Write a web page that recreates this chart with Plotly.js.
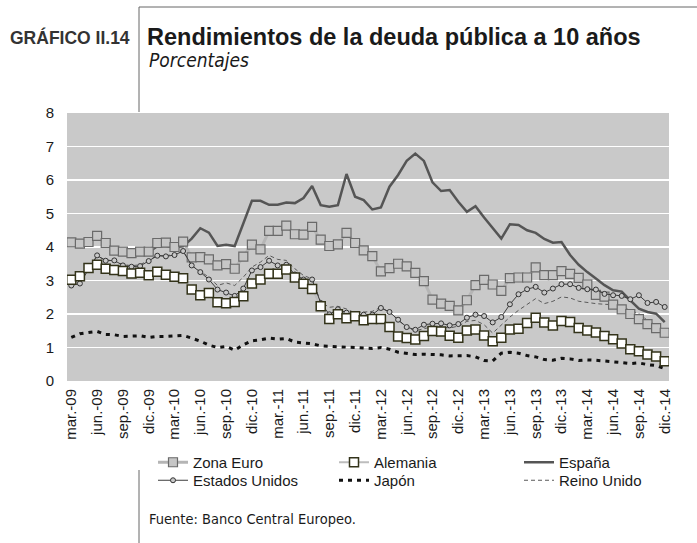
<!DOCTYPE html>
<html><head><meta charset="utf-8">
<script src="https://cdn.plot.ly/plotly-3.0.1.min.js"></script>
<style>html,body{margin:0;padding:0;background:#fff;}#chart{width:697px;height:543px;}</style>
</head><body><div id="chart"></div>
<script>
const months = ["mar.-09","abr.-09","may.-09","jun.-09","jul.-09","ago.-09","sep.-09","oct.-09","nov.-09","dic.-09",
"ene.-10","feb.-10","mar.-10","abr.-10","may.-10","jun.-10","jul.-10","ago.-10","sep.-10","oct.-10","nov.-10","dic.-10",
"ene.-11","feb.-11","mar.-11","abr.-11","may.-11","jun.-11","jul.-11","ago.-11","sep.-11","oct.-11","nov.-11","dic.-11",
"ene.-12","feb.-12","mar.-12","abr.-12","may.-12","jun.-12","jul.-12","ago.-12","sep.-12","oct.-12","nov.-12","dic.-12",
"ene.-13","feb.-13","mar.-13","abr.-13","may.-13","jun.-13","jul.-13","ago.-13","sep.-13","oct.-13","nov.-13","dic.-13",
"ene.-14","feb.-14","mar.-14","abr.-14","may.-14","jun.-14","jul.-14","ago.-14","sep.-14","oct.-14","nov.-14","dic.-14"];

const zonaEuro = [4.14,4.10,4.15,4.33,4.12,3.89,3.86,3.82,3.86,3.86,
4.12,4.13,4.00,4.16,3.69,3.70,3.63,3.45,3.49,3.35,3.71,4.07,
3.93,4.48,4.48,4.64,4.38,4.37,4.60,4.22,4.03,4.08,4.42,4.12,
3.90,3.73,3.27,3.37,3.50,3.42,3.23,2.98,2.43,2.31,2.24,2.11,
2.41,2.86,3.02,2.88,2.69,3.07,3.09,3.09,3.39,3.16,3.16,3.28,
3.20,3.08,2.88,2.57,2.52,2.28,2.14,2.00,1.85,1.70,1.58,1.44];

const alemania = [3.02,3.13,3.37,3.47,3.35,3.31,3.28,3.21,3.23,3.16,
3.26,3.17,3.11,3.07,2.73,2.56,2.63,2.35,2.32,2.36,2.53,2.91,
3.03,3.20,3.20,3.33,3.09,2.90,2.75,2.23,1.85,1.99,1.87,1.93,
1.81,1.85,1.85,1.61,1.33,1.28,1.24,1.34,1.49,1.48,1.35,1.29,
1.51,1.54,1.36,1.19,1.29,1.54,1.56,1.73,1.89,1.75,1.66,1.79,
1.76,1.58,1.51,1.45,1.34,1.25,1.12,0.95,0.89,0.79,0.73,0.59];

const espana = [4.13,4.07,4.15,4.31,4.11,3.89,3.85,3.81,3.84,3.85,
4.02,4.02,3.99,4.02,4.25,4.56,4.43,4.03,4.07,4.03,4.70,5.38,
5.38,5.26,5.26,5.33,5.31,5.46,5.82,5.25,5.20,5.25,6.18,5.50,
5.40,5.12,5.18,5.80,6.15,6.57,6.79,6.57,5.93,5.67,5.70,5.35,
5.05,5.22,4.88,4.57,4.25,4.68,4.66,4.50,4.42,4.24,4.13,4.15,
3.76,3.47,3.25,3.06,2.86,2.71,2.67,2.41,2.16,2.06,2.01,1.76];

const estadosUnidos = [2.85,2.91,3.33,3.75,3.59,3.60,3.45,3.41,3.43,3.58,
3.74,3.72,3.76,3.88,3.45,3.25,3.03,2.73,2.64,2.54,2.76,3.30,
3.40,3.59,3.45,3.47,3.18,3.03,3.03,2.33,1.99,2.14,2.04,1.98,
1.98,1.98,2.18,2.06,1.83,1.61,1.53,1.68,1.71,1.72,1.66,1.70,
1.89,1.98,1.94,1.75,1.91,2.29,2.59,2.74,2.81,2.64,2.76,2.89,
2.89,2.78,2.74,2.73,2.60,2.56,2.54,2.44,2.56,2.33,2.36,2.21];

const japon = [1.30,1.41,1.45,1.48,1.39,1.38,1.33,1.34,1.35,1.30,
1.33,1.33,1.35,1.36,1.28,1.19,1.07,1.00,1.03,0.92,1.08,1.20,
1.23,1.28,1.25,1.27,1.16,1.13,1.11,1.05,1.03,1.02,1.01,1.00,
0.98,0.97,1.00,0.95,0.86,0.83,0.79,0.80,0.80,0.78,0.75,0.75,
0.76,0.72,0.61,0.60,0.83,0.86,0.83,0.76,0.72,0.64,0.62,0.68,
0.66,0.61,0.63,0.62,0.60,0.59,0.55,0.52,0.54,0.49,0.46,0.37];

const reinoUnido = [2.90,2.98,3.35,3.72,3.62,3.58,3.48,3.44,3.47,3.60,
3.75,3.74,3.78,3.88,3.45,3.27,3.10,2.85,2.93,2.85,3.10,3.40,
3.55,3.75,3.63,3.60,3.35,3.15,3.05,2.36,2.20,2.23,2.15,2.03,
2.05,2.08,2.20,2.05,1.82,1.60,1.50,1.55,1.62,1.63,1.58,1.64,
1.78,1.81,1.68,1.43,1.66,1.91,2.11,2.28,2.46,2.31,2.38,2.51,
2.48,2.38,2.34,2.31,2.29,2.28,2.21,2.11,2.01,1.81,1.66,1.46];

const tickLabels = months.filter((m, i) => i % 3 === 0);
const yTicks = [0,1,2,3,4,5,6,7,8];

// pixel helpers for layout decorations
const W = 697, H = 543, L = 67, R = 669, T = 113, B = 381;
const px = x => (x - L) / (R - L);
const py = y => (B - y) / (B - T);

// one legend per entry, arranged in a 3 x 2 grid
const traces = [
  {name:"España", x:months, y:espana, type:"scatter", mode:"lines", legend:"legend3",
   line:{color:"#555555", width:2.5}},
  {name:"Reino Unido", x:months, y:reinoUnido, type:"scatter", mode:"lines", legend:"legend6",
   line:{color:"#5a5a5a", width:1, dash:"4px,3px"}},
  {name:"Japón", x:months, y:japon, type:"scatter", mode:"lines", legend:"legend5",
   line:{color:"#111111", width:3, dash:"4px,5px"}},
  {name:"Zona Euro", x:months, y:zonaEuro, type:"scatter", mode:"lines+markers", legend:"legend",
   line:{color:"#b5b5b5", width:3}, marker:{symbol:"square", size:9, color:"#c6c6c6", line:{color:"#6a6a6a", width:1.2}}},
  {name:"Estados Unidos", x:months, y:estadosUnidos, type:"scatter", mode:"lines+markers", legend:"legend4",
   line:{color:"#3c3c3c", width:1}, marker:{symbol:"circle", size:5, color:"#c8c8c8", line:{color:"#333333", width:1}}},
  {name:"Alemania", x:months, y:alemania, type:"scatter", mode:"lines+markers", legend:"legend2",
   line:{color:"#bdbdbd", width:2}, marker:{symbol:"square", size:9, color:"#ffffff", line:{color:"#33331a", width:1.5}}}
];

const condensed = '"Liberation Sans Narrow", "DejaVu Sans Condensed", "Arial Narrow", sans-serif';
const legendAt = (x, y) => ({orientation: "v", xanchor: "left", yanchor: "top", yref: "paper", xref: "paper",
  x: px(x), y: py(y), font: {size: 15, color: "#1a1a1a"}, bgcolor: "rgba(0,0,0,0)", itemwidth: 30});

const layout = {
  width: W, height: H,
  margin: {l: L, r: W - R, t: T, b: H - B, pad: 0},
  paper_bgcolor: "#ffffff",
  plot_bgcolor: "#c9c9c9",
  font: {family: '"Liberation Sans", Arial, sans-serif', size: 13, color: "#1a1a1a"},
  title: {text: "Rendimientos de la deuda pública a 10 años",
    xref: "container", yref: "container", x: 147 / W, y: 1 - 37 / H, xanchor: "left", yanchor: "middle",
    font: {family: '"Liberation Sans", Arial, sans-serif', size: 23.5, color: "#1a1a1a", weight: "bold"}},
  xaxis: {type: "category", range: [-0.5, months.length - 0.5], tickmode: "array",
    tickvals: tickLabels, ticktext: tickLabels, tickangle: -90, showgrid: false, zeroline: false,
    showline: false, ticks: "", ticklabelstandoff: 4, tickfont: {size: 15, color: "#1a1a1a"}, fixedrange: true},
  yaxis: {range: [0, 8], tickmode: "array", tickvals: yTicks, ticktext: yTicks.map(String),
    showgrid: true, gridcolor: "#ffffff", gridwidth: 1.5, zeroline: false, showline: false, ticks: "",
    ticklabelstandoff: 12, tickfont: {size: 15, color: "#1a1a1a"}, fixedrange: true},
  showlegend: true,
  legend: legendAt(153, 446),
  legend2: legendAt(334, 446),
  legend3: legendAt(519, 446),
  legend4: legendAt(153, 464),
  legend5: legendAt(334, 464),
  legend6: legendAt(519, 464),
  annotations: [
    {text: "<b>GRÁFICO II.14</b>", xref: "paper", yref: "paper", x: px(8), y: py(38),
     xanchor: "left", yanchor: "middle", showarrow: false,
     font: {size: 17.5, color: "#333333"}},
    {text: "<i>Porcentajes</i>", xref: "paper", yref: "paper", x: px(147), y: py(60),
     xanchor: "left", yanchor: "middle", showarrow: false,
     font: {family: condensed, size: 19, color: "#1a1a1a"}},
    {text: "Fuente: Banco Central Europeo.", xref: "paper", yref: "paper", x: px(147), y: py(519),
     xanchor: "left", yanchor: "middle", showarrow: false,
     font: {family: condensed, size: 14.5, color: "#1a1a1a"}}
  ],
  shapes: [
    {type: "line", xref: "paper", yref: "paper", x0: px(139), x1: px(697), y0: py(7), y1: py(7), line: {color: "#666", width: 1}},
    {type: "line", xref: "paper", yref: "paper", x0: px(139), x1: px(139), y0: py(7), y1: py(112), line: {color: "#666", width: 1}},
    {type: "line", xref: "paper", yref: "paper", x0: px(139), x1: px(139), y0: py(470), y1: py(543), line: {color: "#666", width: 1}}
  ]
};

Plotly.newPlot("chart", traces, layout, {staticPlot: true, displayModeBar: false});
</script></body></html>
